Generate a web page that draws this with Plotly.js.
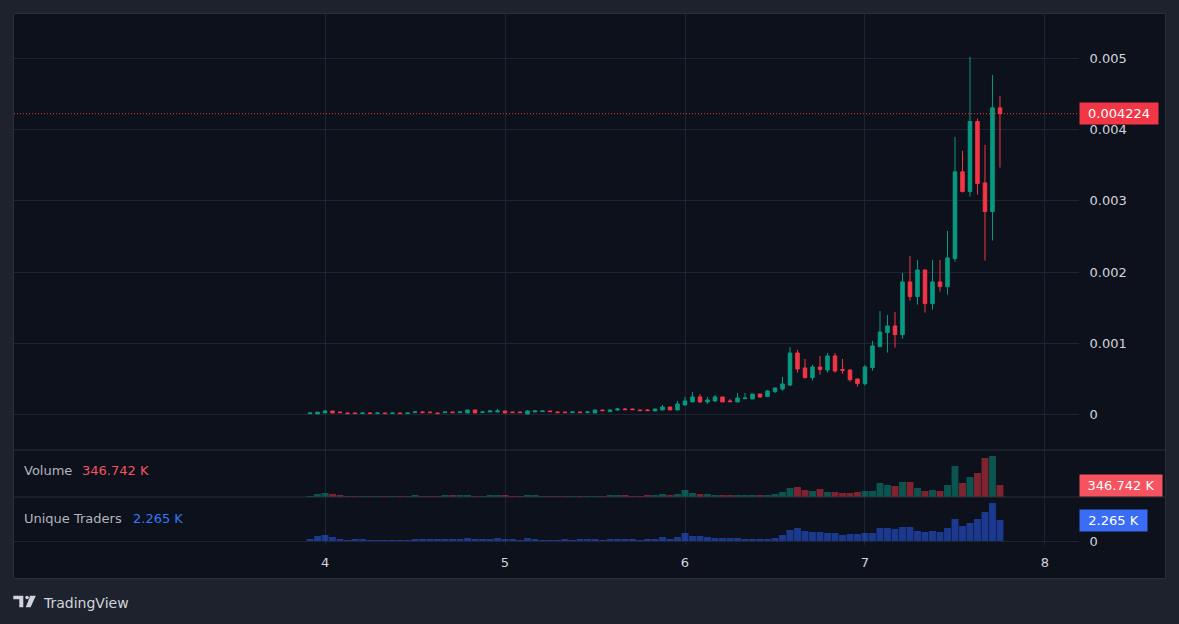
<!DOCTYPE html>
<html><head><meta charset="utf-8">
<script src="https://cdn.plot.ly/plotly-3.0.1.min.js"></script>
<style>html,body{margin:0;padding:0;background:#1e222d;overflow:hidden}</style>
</head><body><div id="chart" style="width:1179px;height:624px"></div>
<script>
// ---- data (hourly candles, x axis in days) ----
const firstHour = 3 + 22/24;
const hourStep = 1/24;
const dayTicks = [4, 5, 6, 7, 8];
const dayLabels = ['4', '5', '6', '7', '8'];
const priceTicks = [0, 0.001, 0.002, 0.003, 0.004, 0.005];
const priceLabels = ['0', '0.001', '0.002', '0.003', '0.004', '0.005'];

const open = [0.000012,0.000007,0.000021,0.000049,0.000035,0.000021,0.000021,0.000013,0.000021,0.000013,
0.000021,0.000013,0.000021,0.000013,0.000026,0.000035,0.000035,0.000021,0.000026,0.000035,
0.000026,0.000021,0.000063,0.000026,0.000035,0.000035,0.000049,0.000035,0.000035,0.000007,
0.000035,0.000040,0.000049,0.000035,0.000035,0.000026,0.000035,0.000026,0.000021,0.000063,
0.000040,0.000063,0.000077,0.000077,0.000063,0.000063,0.000049,0.000063,0.000105,0.000063,
0.000133,0.000176,0.000246,0.000176,0.000190,0.000246,0.000190,0.000176,0.000222,0.000218,
0.000288,0.000251,0.000321,0.000358,0.000414,0.000864,0.000653,0.000518,0.000667,0.000625,
0.000822,0.000630,0.000625,0.000499,0.000433,0.000658,0.000953,0.001150,0.001244,0.001122,
0.001862,0.001656,0.002030,0.001557,0.001862,0.001796,0.002190,0.003408,0.003131,0.004115,
0.003253,0.002850,0.004307];

const high = [0.000022,0.000035,0.000063,0.000052,0.000036,0.000022,0.000022,0.000022,0.000035,0.000022,
0.000022,0.000022,0.000022,0.000022,0.000036,0.000049,0.000036,0.000022,0.000036,0.000036,
0.000036,0.000064,0.000064,0.000049,0.000063,0.000077,0.000050,0.000036,0.000036,0.000063,
0.000063,0.000050,0.000050,0.000044,0.000036,0.000036,0.000036,0.000044,0.000064,0.000064,
0.000077,0.000091,0.000091,0.000078,0.000064,0.000077,0.000078,0.000133,0.000106,0.000190,
0.000246,0.000316,0.000288,0.000246,0.000274,0.000247,0.000218,0.000302,0.000302,0.000289,
0.000290,0.000344,0.000373,0.000527,0.000948,0.000906,0.000780,0.000696,0.000822,0.000864,
0.000864,0.000780,0.000630,0.000499,0.000696,0.001033,0.001454,0.001398,0.001440,0.001988,
0.002227,0.002171,0.002030,0.002171,0.002171,0.002578,0.003899,0.003703,0.005023,0.004157,
0.003787,0.004770,0.004475];

const low = [0.000010,0.000005,0.000020,0.000020,0.000025,0.000011,0.000012,0.000012,0.000012,0.000012,
0.000012,0.000012,0.000012,0.000012,0.000025,0.000025,0.000025,0.000012,0.000025,0.000025,
0.000025,0.000020,0.000020,0.000025,0.000034,0.000034,0.000020,0.000025,0.000025,0.000005,
0.000034,0.000039,0.000039,0.000025,0.000025,0.000025,0.000025,0.000025,0.000020,0.000053,
0.000039,0.000049,0.000067,0.000067,0.000053,0.000053,0.000048,0.000062,0.000062,0.000062,
0.000132,0.000175,0.000162,0.000148,0.000176,0.000175,0.000179,0.000175,0.000221,0.000217,
0.000232,0.000250,0.000302,0.000330,0.000400,0.000588,0.000504,0.000475,0.000560,0.000588,
0.000588,0.000574,0.000461,0.000391,0.000405,0.000616,0.000953,0.000869,0.000939,0.001066,
0.001600,0.001543,0.001431,0.001473,0.001726,0.001684,0.002148,0.003117,0.003061,0.003089,
0.002162,0.002443,0.003468];

const close = [0.000021,0.000033,0.000049,0.000021,0.000026,0.000012,0.000013,0.000021,0.000013,0.000021,
0.000013,0.000021,0.000013,0.000021,0.000035,0.000026,0.000026,0.000013,0.000035,0.000026,
0.000035,0.000063,0.000021,0.000035,0.000049,0.000049,0.000021,0.000026,0.000026,0.000049,
0.000049,0.000049,0.000040,0.000026,0.000026,0.000035,0.000026,0.000035,0.000063,0.000054,
0.000063,0.000077,0.000068,0.000068,0.000054,0.000054,0.000077,0.000105,0.000063,0.000148,
0.000190,0.000246,0.000176,0.000204,0.000246,0.000176,0.000180,0.000232,0.000232,0.000288,
0.000246,0.000330,0.000372,0.000429,0.000864,0.000639,0.000518,0.000667,0.000630,0.000822,
0.000611,0.000620,0.000489,0.000433,0.000667,0.000963,0.001159,0.001244,0.001122,0.001862,
0.001656,0.002030,0.001557,0.001862,0.001796,0.002199,0.003408,0.003131,0.004115,0.003244,
0.002850,0.004307,0.004224];

const volume = [28900, 86700, 115600, 86700, 57800, 28900, 28900, 28900, 28900, 28900,
 28900, 28900, 28900, 28900, 57800, 28900, 28900, 28900, 57800, 57800,
 57800, 57800, 28900, 28900, 57800, 57800, 57800, 28900, 28900, 57800,
 57800, 28900, 28900, 28900, 28900, 28900, 28900, 28900, 28900, 28900,
 57800, 57800, 57800, 28900, 28900, 57800, 57800, 86700, 57800, 86700,
 202300, 115600, 86700, 86700, 57800, 57800, 57800, 57800, 57800, 57800,
 57800, 57800, 86700, 144500, 260100, 289000, 202300, 173400, 231200, 144500,
 144500, 115600, 115600, 144500, 173400, 173400, 404500, 346700, 317900, 433400,
 433400, 260100, 173400, 202300, 173400, 346700, 895800, 404500, 577900, 693500,
 1127000, 1184800, 346742];

const traders = [216, 539, 647, 431, 216, 108, 216, 216, 108, 108,
 108, 108, 108, 108, 216, 216, 216, 216, 216, 216,
 216, 324, 216, 216, 216, 324, 216, 216, 108, 324,
 216, 108, 108, 108, 216, 108, 216, 216, 216, 108,
 216, 216, 216, 216, 108, 216, 216, 431, 216, 431,
 863, 539, 539, 431, 324, 324, 324, 324, 216, 216,
 216, 216, 324, 647, 1186, 1402, 1079, 971, 971, 863,
 863, 647, 755, 755, 863, 863, 1402, 1402, 1294, 1510,
 1510, 1079, 971, 1079, 971, 1402, 2373, 1618, 1941, 2373,
 3128, 4098, 2265];

const lastPrice = 0.004224, lastPriceText = '0.004224';
const lastVolume = 346742, lastVolumeText = '346.742 K';
const lastTraders = 2265, lastTradersText = '2.265 K';

// ---- styling / layout helpers ----
const UP = '#089981', DOWN = '#f23645';
const GRID = '#1f2432', BORDER = '#2a2e39', TXT = '#d1d4dc';
const FONT = '"DejaVu Sans", Verdana, sans-serif';
const PL = 14, PR = 1079, PT = 14, PB = 545;
const fx = x => (x - PL) / (PR - PL);
const fy = y => (PB - y) / (PB - PT);

const times = open.map((_, i) => firstHour + i * hourStep);
const volColors = open.map((o, i) => close[i] >= o ? 'rgba(8,153,129,0.5)' : 'rgba(242,54,69,0.5)');

const traces = [
  {type: 'candlestick', x: times, open: open, high: high, low: low, close: close,
   xaxis: 'x', yaxis: 'y', whiskerwidth: 0, hoverinfo: 'skip',
   increasing: {line: {color: UP, width: 1}, fillcolor: UP},
   decreasing: {line: {color: DOWN, width: 1}, fillcolor: DOWN}},
  {type: 'bar', x: times, y: volume, xaxis: 'x', yaxis: 'y2',
   marker: {color: volColors, line: {width: 0}}, hoverinfo: 'skip'},
  {type: 'bar', x: times, y: traders, xaxis: 'x', yaxis: 'y3',
   marker: {color: 'rgba(41,98,255,0.5)', line: {width: 0}}, hoverinfo: 'skip'}
];

function poly(pts) {
  return 'M' + pts.map(p => fx(p[0]) + ',' + fy(p[1])).join(' L') + ' Z';
}

const shapes = [
  {type: 'rect', xref: 'paper', yref: 'paper', x0: fx(13.5), x1: fx(1165.5), y0: fy(578.5), y1: fy(13.5),
   fillcolor: '#0d111c', line: {color: BORDER, width: 1}, layer: 'below'},
  {type: 'line', xref: 'paper', yref: 'paper', x0: fx(13.5), x1: fx(1165.5), y0: fy(450), y1: fy(450),
   line: {color: BORDER, width: 1}},
  {type: 'line', xref: 'paper', yref: 'paper', x0: fx(13.5), x1: fx(1165.5), y0: fy(497), y1: fy(497),
   line: {color: BORDER, width: 1}},
  {type: 'line', xref: 'paper', yref: 'y', x0: 0, x1: 1, y0: lastPrice, y1: lastPrice,
   line: {color: DOWN, width: 1, dash: '1px,2px'}},
  // TradingView logo
  {type: 'path', xref: 'paper', yref: 'paper', fillcolor: TXT, line: {width: 0},
   path: poly([[13.3,595.7],[23.3,595.7],[23.3,607.3],[19.3,607.3],[19.3,599.2],[13.3,599.2]])},
  {type: 'circle', xref: 'paper', yref: 'paper', fillcolor: TXT, line: {width: 0},
   x0: fx(25.3), x1: fx(28.9), y0: fy(599.3), y1: fy(595.7)},
  {type: 'path', xref: 'paper', yref: 'paper', fillcolor: TXT, line: {width: 0},
   path: poly([[30.2,595.7],[35.8,595.7],[30.6,607.3],[25.8,607.3]])}
];

const boxAnn = (yref, yv, text, w, bg) => ({
  xref: 'paper', x: 1, xanchor: 'left', yref: yref, y: yv, yanchor: 'middle',
  text: text, showarrow: false, bgcolor: bg, borderpad: 4, width: w, height: 13,
  font: {family: FONT, size: 13, color: '#ffffff'}
});
const txtAnn = (xpx, ypx, text, color, size) => ({
  xref: 'paper', yref: 'paper', x: fx(xpx), y: fy(ypx), xanchor: 'left', yanchor: 'middle',
  text: text, showarrow: false, font: {family: FONT, size: size || 13, color: color}
});

const annotations = [
  boxAnn('y', lastPrice, lastPriceText, 70, '#f23645'),
  boxAnn('y2', lastVolume, lastVolumeText, 74, '#f7525f'),
  boxAnn('y3', lastTraders, lastTradersText, 59, '#3b6cf5'),
  txtAnn(22, 470, 'Volume', '#b2b5be'),
  txtAnn(80, 470, lastVolumeText, '#f7525f'),
  txtAnn(22, 518, 'Unique Traders', '#b2b5be'),
  txtAnn(131, 518, lastTradersText, '#3179f5'),
  txtAnn(41, 603, 'TradingView', TXT, 14)
];

const layout = {
  width: 1179, height: 624,
  margin: {l: PL, r: 1179 - PR, t: PT, b: 624 - PB, pad: 0},
  paper_bgcolor: '#1e222d', plot_bgcolor: 'rgba(0,0,0,0)',
  font: {family: FONT, size: 13, color: TXT},
  showlegend: false, bargap: 0.08, boxgap: 0.33, dragmode: false,
  xaxis: {domain: [0, 1], anchor: 'y3', range: [2.272, 8.189], tickmode: 'array',
    tickvals: dayTicks, ticktext: dayLabels, showgrid: true, gridcolor: GRID, gridwidth: 1,
    zeroline: false, showline: false, ticks: 'outside', ticklen: 5, tickcolor: 'rgba(0,0,0,0)',
    tickfont: {family: FONT, size: 13, color: TXT}, rangeslider: {visible: false}, fixedrange: true},
  yaxis: {domain: [fy(450), 1], anchor: 'x', side: 'right', range: [-0.000499, 0.005625],
    tickmode: 'array', tickvals: priceTicks, ticktext: priceLabels, showgrid: true, gridcolor: GRID,
    zeroline: false, showline: false, ticks: 'outside', ticklen: 7, tickcolor: 'rgba(0,0,0,0)',
    tickfont: {family: FONT, size: 13, color: TXT}, fixedrange: true},
  yaxis2: {domain: [fy(497), fy(450)], anchor: 'x', side: 'right', range: [0, 1358000],
    showticklabels: false, showgrid: false, zeroline: false, showline: false, ticks: '', fixedrange: true},
  yaxis3: {domain: [0, fy(497)], anchor: 'x', side: 'right', range: [-431, 4746],
    tickmode: 'array', tickvals: [0], ticktext: ['0'], showgrid: true, gridcolor: GRID,
    zeroline: false, showline: false, ticks: 'outside', ticklen: 7, tickcolor: 'rgba(0,0,0,0)',
    tickfont: {family: FONT, size: 13, color: TXT}, fixedrange: true},
  shapes: shapes,
  annotations: annotations
};

Plotly.newPlot('chart', traces, layout, {staticPlot: true, displayModeBar: false});
</script>
</body></html>
